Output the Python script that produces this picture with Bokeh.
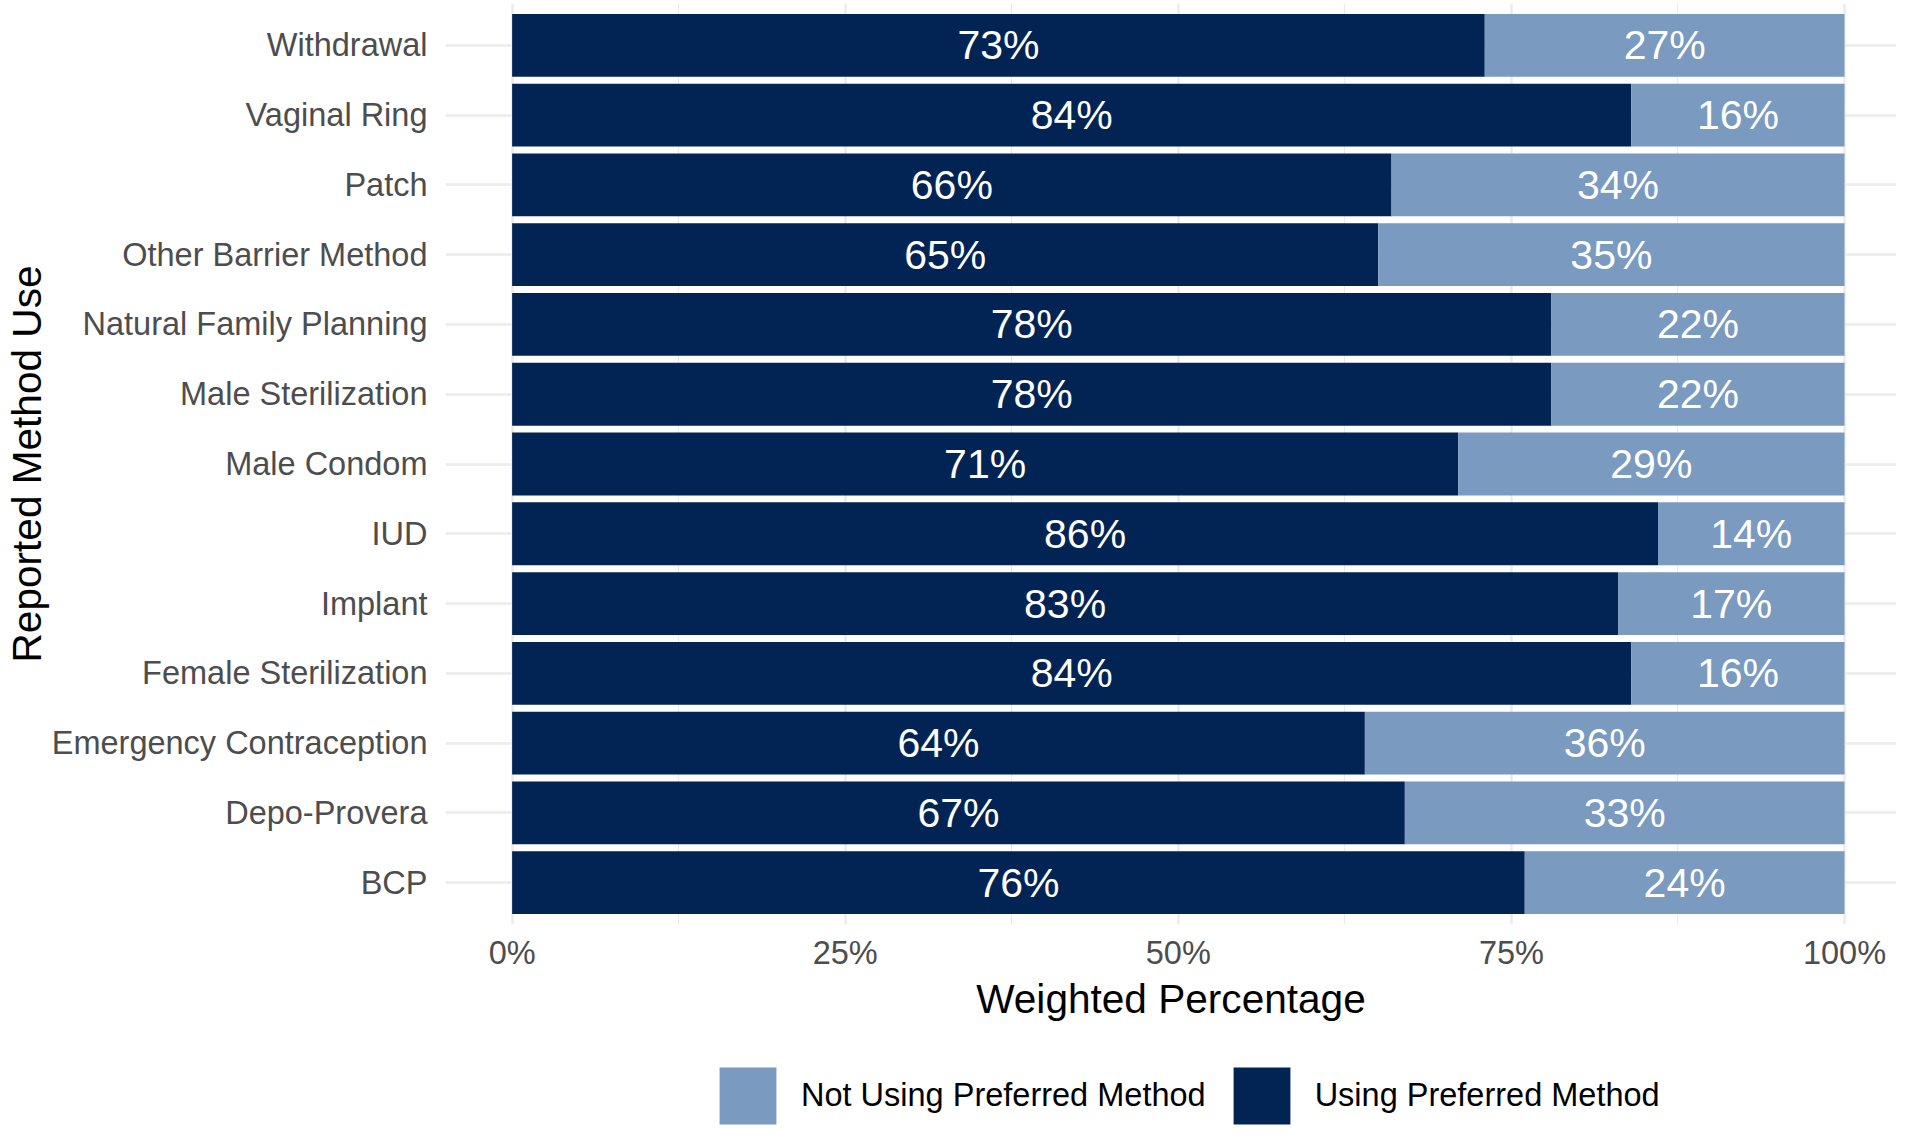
from bokeh.plotting import figure
from bokeh.layouts import column
from bokeh.models import ColumnDataSource, Range1d, FixedTicker, NumeralTickFormatter, Legend, LegendItem
from bokeh.core.properties import value
from bokeh.embed import file_html
from bokeh.resources import INLINE

methods = ["Withdrawal", "Vaginal Ring", "Patch", "Other Barrier Method",
           "Natural Family Planning", "Male Sterilization", "Male Condom", "IUD",
           "Implant", "Female Sterilization", "Emergency Contraception",
           "Depo-Provera", "BCP"]
using_pct = [73, 84, 66, 65, 78, 78, 71, 86, 83, 84, 64, 67, 76]
not_using_pct = [27, 16, 34, 35, 22, 22, 29, 14, 17, 16, 36, 33, 24]
x_ticks = [0, 0.25, 0.5, 0.75, 1.0]
x_minor_ticks = [0.125, 0.375, 0.625, 0.875]
series_names = ["Not Using Preferred Method", "Using Preferred Method"]

DARK = "#022454"
LIGHT = "#7a9ac0"
FONT = "Liberation Sans"

n = len(methods)
ypos = [n - i for i in range(n)]
u = [v / 100 for v in using_pct]
tot = [(a + b) / 100 for a, b in zip(using_pct, not_using_pct)]
src = ColumnDataSource(dict(
    y=ypos, u=u, tot=tot,
    umid=[a / 2 for a in u],
    nmid=[(a + b) / 2 for a, b in zip(u, tot)],
    ulab=[f"{v}%" for v in using_pct],
    nlab=[f"{v}%" for v in not_using_pct],
    zero=[0] * n,
))

p = figure(width=1896, height=1040, output_backend="svg", toolbar_location=None,
           x_range=Range1d(-0.05, 1.039), y_range=Range1d(0.4, 13.6),
           min_border_left=445, min_border_right=0, min_border_top=3, min_border_bottom=116)
p.outline_line_color = None
p.background_fill_color = "white"
p.border_fill_color = "white"

r_using = p.hbar(y="y", left="zero", right="u", height=0.9, source=src,
                 fill_color=DARK, line_color=None)
r_not = p.hbar(y="y", left="u", right="tot", height=0.9, source=src,
               fill_color=LIGHT, line_color=None)

for xcol, tcol in (("umid", "ulab"), ("nmid", "nlab")):
    p.text(x=xcol, y="y", text=tcol, source=src, text_color="white",
           text_font=value(FONT), text_font_size="41px",
           text_align="center", text_baseline="middle")

# axes
xa = p.xaxis[0]
xa.ticker = FixedTicker(ticks=x_ticks, minor_ticks=x_minor_ticks)
xa.formatter = NumeralTickFormatter(format="0%")
ya = p.yaxis[0]
ya.ticker = FixedTicker(ticks=ypos)
ya.major_label_overrides = {y: m for y, m in zip(ypos, methods)}
for ax in (xa, ya):
    ax.axis_line_color = None
    ax.major_tick_line_color = None
    ax.minor_tick_line_color = None
    ax.major_label_text_font = FONT
    ax.major_label_text_font_size = "32.5px"
    ax.major_label_text_color = "#4d4d4d"
    ax.axis_label_text_font = FONT
    ax.axis_label_text_font_size = "40.6px"
    ax.axis_label_text_font_style = "normal"
    ax.axis_label_text_color = "black"
xa.axis_label = "Weighted Percentage"
ya.axis_label = "Reported Method Use"
xa.major_label_standoff = 4
xa.axis_label_standoff = 2
ya.major_label_standoff = 12
ya.axis_label_standoff = -1

p.xgrid.grid_line_color = "#ebebeb"
p.xgrid.grid_line_width = 2.5
p.xgrid.minor_grid_line_color = "#ebebeb"
p.xgrid.minor_grid_line_width = 1.3
p.ygrid.grid_line_color = "#ebebeb"
p.ygrid.grid_line_width = 2.5

# legend strip below the chart (its renderers are hidden; only the legend shows)
leg = figure(width=1896, height=86, output_backend="svg", toolbar_location=None,
             x_range=Range1d(0, 1), y_range=Range1d(0, 1),
             x_axis_location=None, y_axis_location=None,
             min_border_left=445, min_border_right=0, min_border_top=0, min_border_bottom=0)
leg.outline_line_color = None
leg.grid.visible = False
g_not = leg.hbar(y="y", left="u", right="tot", height=0.9, source=src,
                 fill_color=LIGHT, line_color=None, visible=False)
g_use = leg.hbar(y="y", left="zero", right="u", height=0.9, source=src,
                 fill_color=DARK, line_color=None, visible=False)
legend = Legend(items=[LegendItem(label=series_names[0], renderers=[g_not]),
                       LegendItem(label=series_names[1], renderers=[g_use])],
                orientation="horizontal", location=(712 - 445, -5),
                glyph_width=71, glyph_height=71, label_standoff=18, spacing=20,
                padding=0, margin=0, border_line_color=None, background_fill_alpha=0,
                label_text_font=FONT, label_text_font_size="32.5px",
                label_text_color="black", label_text_baseline="middle")
leg.add_layout(legend, "center")

layout = column(p, leg, spacing=0)
open("out.html", "w").write(file_html(layout, INLINE))
